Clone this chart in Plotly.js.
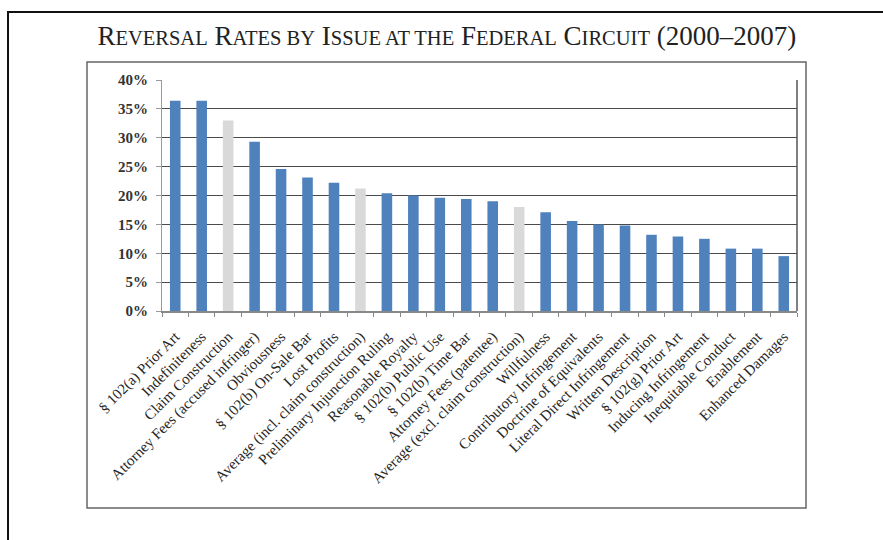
<!DOCTYPE html>
<html>
<head>
<meta charset="utf-8">
<script src="https://cdn.plot.ly/plotly-3.0.1.min.js"></script>
<style>html,body{margin:0;padding:0;background:#fff;}#chart{width:883px;height:540px;}</style>
</head>
<body>
<div id="chart"></div>
<script>
var categories = [
  "§ 102(a) Prior Art",
  "Indefiniteness",
  "Claim Construction",
  "Attorney Fees (accused infringer)",
  "Obviousness",
  "§ 102(b) On-Sale Bar",
  "Lost Profits",
  "Average (incl. claim construction)",
  "Preliminary Injunction Ruling",
  "Reasonable Royalty",
  "§ 102(b) Public Use",
  "§ 102(b) Time Bar",
  "Attorney Fees (patentee)",
  "Average (excl. claim construction)",
  "Willfulness",
  "Contributory Infringement",
  "Doctrine of Equivalents",
  "Literal Direct Infringement",
  "Written Description",
  "§ 102(g) Prior Art",
  "Inducing Infringement",
  "Inequitable Conduct",
  "Enablement",
  "Enhanced Damages"
];
var reversalRates = [
  0.364, 0.364, 0.330, 0.293, 0.246, 0.231, 0.222, 0.212, 0.204, 0.200, 0.196, 0.194,
  0.190, 0.180, 0.171, 0.156, 0.150, 0.148, 0.132, 0.129, 0.125, 0.108, 0.108, 0.095
];
var highlightedCategories = [
  "Claim Construction",
  "Average (incl. claim construction)",
  "Average (excl. claim construction)"
];
var highlightColor = "#D9D9D9";
var baseColor = "#4F81BD";
var yTickValues = [0, 0.05, 0.10, 0.15, 0.20, 0.25, 0.30, 0.35, 0.40];
var yTickLabels = ["0%", "5%", "10%", "15%", "20%", "25%", "30%", "35%", "40%"];

var barColors = categories.map(function (c) {
  return highlightedCategories.indexOf(c) >= 0 ? highlightColor : baseColor;
});

var sc = function (w) { return '<span style="font-size:20.5px">' + w + '</span>'; };
var titleText = 'R' + sc('EVERSAL') + ' R' + sc('ATES BY') + ' I' + sc('SSUE AT THE') +
  ' F' + sc('EDERAL') + ' C' + sc('IRCUIT') + ' (2000–2007)';

var trace = {
  type: "bar",
  x: categories,
  y: reversalRates,
  marker: { color: barColors, line: { width: 0 } },
  hoverinfo: "x+y"
};

var layout = {
  width: 883,
  height: 540,
  paper_bgcolor: "#ffffff",
  plot_bgcolor: "#ffffff",
  margin: { l: 162, r: 86, t: 80, b: 229, pad: 0 },
  showlegend: false,
  bargap: 0.6,
  title: {
    text: titleText,
    font: { family: "Liberation Serif", size: 27, color: "#222" },
    xref: "container", x: 0.506, xanchor: "center",
    yref: "container", y: 0.935, yanchor: "middle"
  },
  xaxis: {
    type: "category",
    tickangle: -45,
    tickfont: { family: "Liberation Serif", size: 15, color: "#262626" },
    ticklabelstandoff: 9,
    showline: true, linecolor: "#888", linewidth: 2,
    ticks: "outside", tickson: "boundaries", ticklen: 4, tickcolor: "#888",
    showgrid: false, zeroline: false
  },
  yaxis: {
    range: [0, 0.4],
    tickvals: yTickValues,
    ticktext: yTickLabels,
    tickfont: { family: "Liberation Serif", size: 15, color: "#333", weight: "bold" },
    ticklabelstandoff: 5,
    showline: true, linecolor: "#999", linewidth: 1,
    ticks: "outside", ticklen: 5, tickcolor: "#999",
    showgrid: true, gridcolor: "#4a4a4a", gridwidth: 1.2,
    zeroline: false
  },
  shapes: [
    { type: "line", xref: "paper", yref: "paper", x0: 1, x1: 1, y0: 0, y1: 1,
      line: { color: "#555", width: 1.5 } },
    { type: "rect", xref: "paper", yref: "paper", x0: -0.1181, x1: 1.0142, y0: -0.8528, y1: 1.0779,
      line: { color: "#666", width: 1.5 }, layer: "below" },
    { type: "rect", xref: "paper", yref: "paper", x0: -0.2425, x1: 1.2, y0: -1.2, y1: 1.294,
      line: { color: "#111", width: 2 }, layer: "below" }
  ]
};

Plotly.newPlot("chart", [trace], layout, { displayModeBar: false, staticPlot: true });
</script>
</body>
</html>
